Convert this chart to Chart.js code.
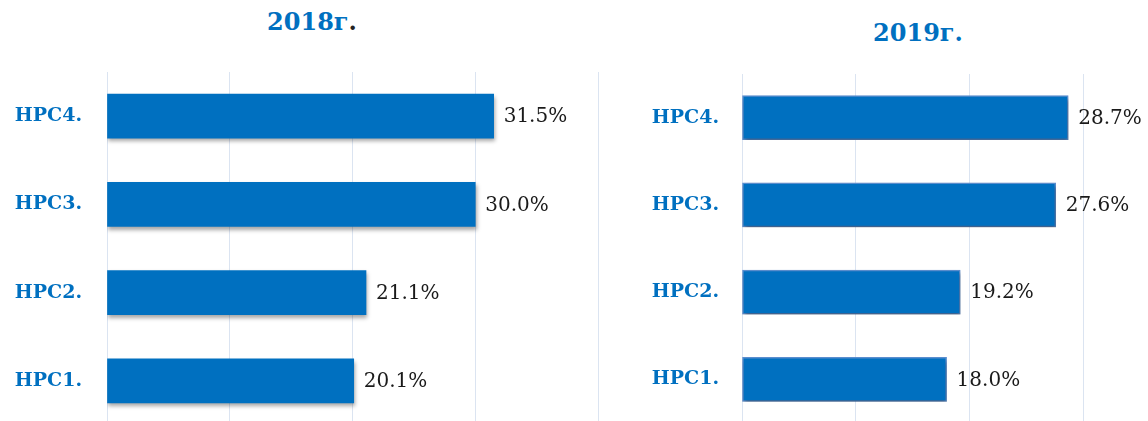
<!DOCTYPE html>
<html lang="ru">
<head>
  <meta charset="UTF-8">
  <title>HPC 2018-2019</title>
  <script src="https://cdn.jsdelivr.net/npm/chart.js"></script>
  <style>
    html, body { margin: 0; padding: 0; background: #fff; overflow: hidden; width: 1148px; height: 421px; }
    .title {
      position: absolute;
      font-family: "DejaVu Serif", serif;
      font-weight: bold;
      font-size: 24px;
      color: #0070C0;
      transform: translateX(-50%);
      white-space: nowrap;
    }
    canvas { position: absolute; top: 0; }
  </style>
</head>
<body>
  <div class="title" style="left:312px; top:7px;">2018г<span style="color:#222">.</span></div>
  <div class="title" style="left:918px; top:18px;">2019г.</div>
  <canvas id="chart2018" width="600" height="430" style="left:0"></canvas>
  <canvas id="chart2019" width="548" height="430" style="left:600px"></canvas>

<script>
// данные
const categories = ["HPC4.", "HPC3.", "HPC2.", "HPC1."];
const values2018 = [31.5, 30.0, 21.1, 20.1];
const values2019 = [28.7, 27.6, 19.2, 18.0];

const blue = "#0070C0";
const gridColor = "#dbe4f1";

// тень под столбцами + подписи значений
const barExtras = {
  id: "barExtras",
  beforeDatasetsDraw(chart) {
    const ctx = chart.ctx;
    ctx.save();
    ctx.shadowColor = "rgba(0,0,0,0.35)";
    ctx.shadowBlur = 4;
    ctx.shadowOffsetX = 1;
    ctx.shadowOffsetY = 3;
  },
  afterDatasetsDraw(chart) {
    const ctx = chart.ctx;
    ctx.restore();
    const meta = chart.getDatasetMeta(0);
    const data = chart.data.datasets[0].data;
    ctx.save();
    ctx.font = "20px 'DejaVu Serif'";
    ctx.fillStyle = "#1a1a1a";
    ctx.textAlign = "left";
    ctx.textBaseline = "middle";
    meta.data.forEach((bar, i) => {
      ctx.fillText(data[i].toFixed(1) + "%", bar.x + 10, bar.y + 1);
    });
    ctx.restore();
  }
};

function makeChart(id, values, opts) {
  const ctx = document.getElementById(id).getContext("2d");
  return new Chart(ctx, {
    type: "bar",
    data: {
      labels: categories,
      datasets: [{
        data: values,
        backgroundColor: blue,
        borderColor: opts.border,
        borderWidth: opts.borderWidth,
        borderSkipped: false,
        barThickness: 44
      }]
    },
    options: {
      indexAxis: "y",
      responsive: false,
      animation: false,
      layout: { padding: opts.padding },
      plugins: {
        legend: { display: false },
        tooltip: { enabled: false }
      },
      scales: {
        x: {
          min: 0,
          max: opts.max,
          ticks: { display: false, stepSize: 10 },
          grid: { color: gridColor, lineWidth: 1, drawTicks: false },
          border: { display: false }
        },
        y: {
          grid: { display: false, drawTicks: false },
          border: { display: false },
          ticks: {
            color: blue,
            padding: opts.labelPad,
            font: { family: "DejaVu Serif", weight: "bold", size: 19 }
          },
          afterFit(scale) {
            scale.width = opts.axisWidth;
            // tick padding should not eat the plot height
            scale.paddingTop = 0;
            scale.paddingBottom = 0;
          }
        }
      }
    },
    plugins: [barExtras]
  });
}

makeChart("chart2018", values2018, {
  max: 40, axisWidth: 107, labelPad: 25,
  padding: { top: 72, right: 2, bottom: 5, left: 0 },
  border: blue, borderWidth: 0
});

makeChart("chart2019", values2019, {
  max: 30, axisWidth: 142, labelPad: 23,
  padding: { top: 74, right: 65, bottom: 7, left: 0 },
  border: "#5b8fd0", borderWidth: 1.5
});
</script>
</body>
</html>
